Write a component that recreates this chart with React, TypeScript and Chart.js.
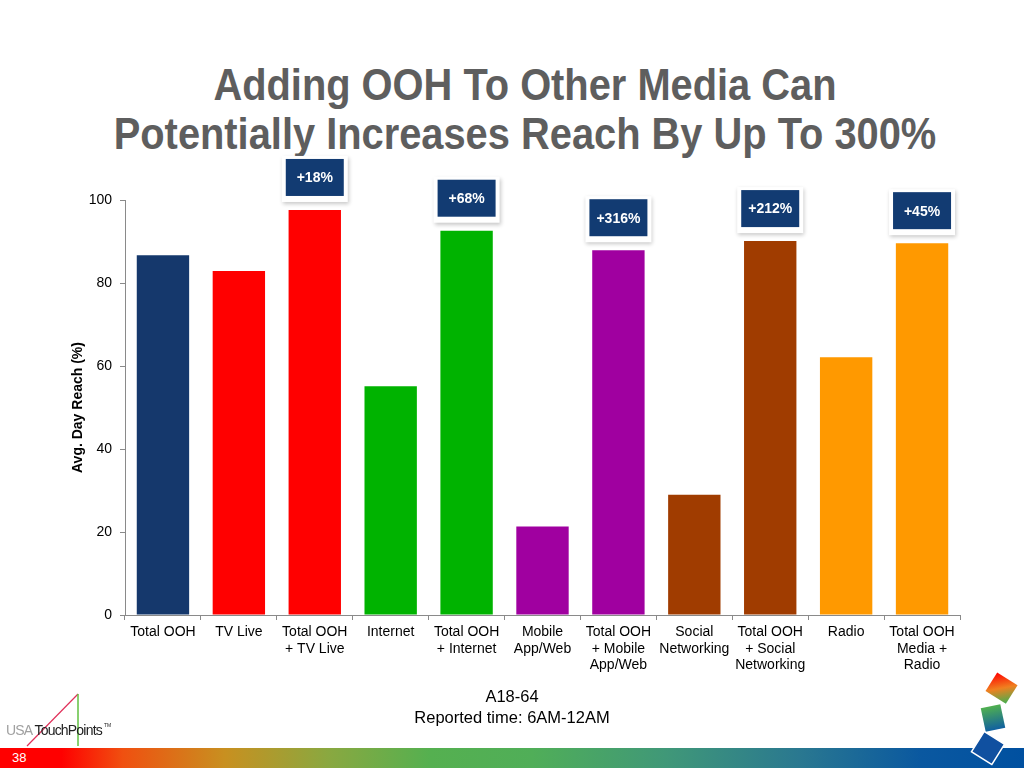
import React, { useEffect, useRef } from "react";
import { Chart, registerables } from "chart.js";

Chart.register(...registerables);

const categories: string[][] = [
  ["Total OOH"],
  ["TV Live"],
  ["Total OOH", "+ TV Live"],
  ["Internet"],
  ["Total OOH", "+ Internet"],
  ["Mobile", "App/Web"],
  ["Total OOH", "+ Mobile", "App/Web"],
  ["Social", "Networking"],
  ["Total OOH", "+ Social", "Networking"],
  ["Radio"],
  ["Total OOH", "Media +", "Radio"],
];
const reachValues = [86.7, 82.9, 97.6, 55.1, 92.6, 21.3, 87.9, 29.0, 90.1, 62.1, 89.6];
const barColors = [
  "#15386C",
  "#FF0000",
  "#FF0000",
  "#00B300",
  "#00B300",
  "#A000A0",
  "#A000A0",
  "#A03C00",
  "#A03C00",
  "#FF9900",
  "#FF9900",
];
const liftLabels = ["", "", "+18%", "", "+68%", "", "+316%", "", "+212%", "", "+45%"];
const yTicks = [0, 20, 40, 60, 80, 100];

const FONT = "'Liberation Sans', Arial, sans-serif";

const liftPlugin = {
  id: "liftBoxes",
  afterDatasetsDraw(chart: any) {
    const ctx = chart.ctx as CanvasRenderingContext2D;
    const meta = chart.getDatasetMeta(0);
    meta.data.forEach((bar: any, i: number) => {
      const label = liftLabels[i];
      if (!label) return;
      const w = 58;
      const h = 37;
      const x = bar.x - w / 2;
      const y = bar.y - 14 - h;
      ctx.save();
      ctx.shadowColor = "rgba(0,0,0,0.22)";
      ctx.shadowBlur = 4;
      ctx.shadowOffsetX = 1;
      ctx.shadowOffsetY = 2;
      ctx.fillStyle = "#ffffff";
      ctx.fillRect(x - 4, y - 3, w + 8, h + 9);
      ctx.restore();
      ctx.save();
      ctx.fillStyle = "#123B72";
      ctx.fillRect(x, y, w, h);
      ctx.fillStyle = "#ffffff";
      ctx.font = `bold 14px ${FONT}`;
      ctx.textAlign = "center";
      ctx.textBaseline = "middle";
      ctx.fillText(label, bar.x, y + h / 2 + 1);
      ctx.restore();
    });
  },
};

export default function App() {
  const canvasRef = useRef<HTMLCanvasElement | null>(null);

  useEffect(() => {
    if (!canvasRef.current) return;
    const chart = new Chart(canvasRef.current, {
      type: "bar",
      data: {
        labels: categories,
        datasets: [
          {
            data: reachValues,
            backgroundColor: barColors,
            borderWidth: 0,
            categoryPercentage: 1,
            barPercentage: 0.69,
          },
        ],
      },
      options: {
        responsive: false,
        animation: false,
        devicePixelRatio: 1,
        layout: { padding: { top: 200, left: 60, right: 64, bottom: 93 } },
        plugins: {
          legend: { display: false },
          tooltip: { enabled: false },
          title: { display: false },
        },
        scales: {
          x: {
            grid: {
              drawOnChartArea: false,
              drawTicks: true,
              tickLength: 5,
              color: "#8a8a8a",
            },
            border: { color: "#8a8a8a" },
            ticks: {
              color: "#000000",
              font: { family: FONT, size: 14, lineHeight: 1.18 },
              maxRotation: 0,
              autoSkip: false,
              padding: 4,
            },
            afterFit: (s: any) => {
              s.height = 60;
            },
          },
          y: {
            min: 0,
            max: 100,
            afterBuildTicks: (s: any) => {
              s.ticks = yTicks.map((v) => ({ value: v }));
            },
            grid: {
              drawOnChartArea: false,
              drawTicks: true,
              tickLength: 5,
              color: "#8a8a8a",
            },
            border: { color: "#8a8a8a" },
            ticks: {
              color: "#000000",
              font: { family: FONT, size: 14 },
              padding: 8,
            },
            title: {
              display: true,
              text: "Avg. Day Reach (%)",
              color: "#000000",
              font: { family: FONT, size: 14, weight: "bold" },
              padding: { top: 10, bottom: 0 },
            },
            afterFit: (s: any) => {
              s.width = 65;
            },
          },
        },
      },
      plugins: [liftPlugin],
    });
    return () => chart.destroy();
  }, []);

  return (
    <div
      style={{
        position: "absolute",
        left: 0,
        top: 0,
        width: 1024,
        height: 768,
        background: "#ffffff",
        overflow: "hidden",
        fontFamily: FONT,
      }}
    >
      <div
        style={{
          position: "absolute",
          left: 13,
          top: 60,
          width: 1024,
          textAlign: "center",
          fontSize: 44,
          fontWeight: "bold",
          lineHeight: "49px",
          color: "#5E5E5E",
          whiteSpace: "nowrap",
          transform: "scaleX(0.905)",
          transformOrigin: "50% 0",
        }}
      >
        Adding OOH To Other Media Can
        <br />
        Potentially Increases Reach By Up To 300%
      </div>
      <canvas
        ref={canvasRef}
        width={1024}
        height={768}
        style={{ position: "absolute", left: 0, top: 0, width: 1024, height: 768 }}
      />
      <div
        style={{
          position: "absolute",
          left: 0,
          top: 686,
          width: 1024,
          textAlign: "center",
          fontSize: 16.5,
          lineHeight: "21px",
          color: "#000",
        }}
      >
        A18-64
        <br />
        Reported time: 6AM-12AM
      </div>
      <div
        style={{
          position: "absolute",
          left: 0,
          top: 748,
          width: 1024,
          height: 20,
          background:
            "linear-gradient(to right, #FF0000 0%, #FF0000 6%, #F05010 12%, #C89020 22%, #8AA840 32%, #55B050 42%, #50AE58 52%, #409878 65%, #2A7890 78%, #0A58A0 90%, #0050A0 100%)",
        }}
      />
      <div
        style={{
          position: "absolute",
          left: 12,
          top: 750,
          fontSize: 13,
          color: "#ffffff",
        }}
      >
        38
      </div>
      <svg
        width={1024}
        height={768}
        style={{ position: "absolute", left: 0, top: 0, pointerEvents: "none" }}
      >
        <defs>
          <linearGradient id="cube1" x1="0" y1="0" x2="1" y2="1">
            <stop offset="0%" stopColor="#FF0000" />
            <stop offset="50%" stopColor="#F08020" />
            <stop offset="100%" stopColor="#40B050" />
          </linearGradient>
          <linearGradient id="cube2" x1="0" y1="0" x2="0" y2="1">
            <stop offset="0%" stopColor="#50B050" />
            <stop offset="100%" stopColor="#1060A0" />
          </linearGradient>
        </defs>
        <line x1={27} y1={746} x2={78} y2={694} stroke="#E0305A" strokeWidth={1.2} />
        <line x1={78} y1={694} x2={78} y2={746} stroke="#60C040" strokeWidth={1.5} />
        <text x={6} y={735} fontSize={14} fontFamily={FONT} letterSpacing={-0.8}>
          <tspan fill="#A0A0A0">USA </tspan>
          <tspan fill="#222222">TouchPoints</tspan>
        </text>
        <text x={104} y={727} fontSize={5} fill="#222" fontFamily={FONT}>
          TM
        </text>
        <rect
          x={-12}
          y={-12}
          width={24}
          height={22}
          fill="url(#cube1)"
          transform="translate(1001 689) rotate(32)"
        />
        <rect
          x={-10}
          y={-12}
          width={20}
          height={24}
          fill="url(#cube2)"
          transform="translate(993 718) rotate(-12)"
        />
        <rect
          x={-12}
          y={-12}
          width={24}
          height={24}
          fill="#1050A0"
          stroke="#ffffff"
          strokeWidth={1.5}
          transform="translate(988 748) rotate(32)"
        />
      </svg>
    </div>
  );
}
